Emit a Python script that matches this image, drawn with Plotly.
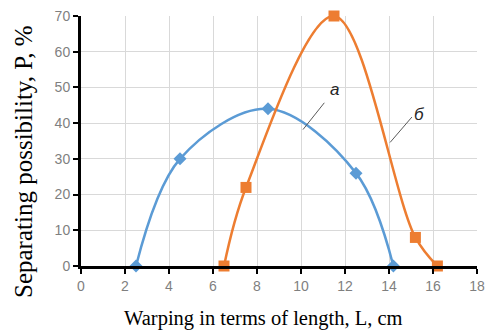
import plotly.graph_objects as go

# curve "a" (blue diamonds)
a_x = [2.5, 4.5, 8.5, 12.5, 14.2]
a_y = [0, 30, 44, 26, 0]

# curve "б" (orange squares)
b_x = [6.5, 7.5, 11.5, 15.2, 16.2]
b_y = [0, 22, 70, 8, 0]

x_ticks = [0, 2, 4, 6, 8, 10, 12, 14, 16, 18]
y_ticks = [0, 10, 20, 30, 40, 50, 60, 70]

BLUE = '#5B9BD5'
ORANGE = '#ED7D31'

fig = go.Figure()

fig.add_trace(go.Scatter(
    x=a_x, y=a_y, mode='lines+markers',
    line=dict(color=BLUE, width=2.5, shape='spline', smoothing=1),
    marker=dict(symbol='diamond', size=10, color=BLUE),
    showlegend=False, cliponaxis=False,
))
fig.add_trace(go.Scatter(
    x=b_x, y=b_y, mode='lines+markers',
    line=dict(color=ORANGE, width=2.5, shape='spline', smoothing=1),
    marker=dict(symbol='square', size=11, color=ORANGE),
    showlegend=False, cliponaxis=False,
))

# leader lines for the curve labels
fig.add_shape(type='line', x0=10.09, y0=38.2, x1=11.06, y1=45.7,
              line=dict(color='#595959', width=1))
fig.add_shape(type='line', x0=14.05, y0=34.6, x1=15.04, y1=41.7,
              line=dict(color='#595959', width=1))
fig.add_annotation(x=11.5, y=49.5, text='<i>a</i>', showarrow=False,
                   font=dict(family='Liberation Sans', size=17, color='#262626'))
fig.add_annotation(x=15.4, y=42.5, text='<i>б</i>', showarrow=False,
                   font=dict(family='Liberation Sans', size=17, color='#262626'))

# axis titles (placed as annotations, they sit off-centre in the original)
fig.add_annotation(xref='paper', yref='paper', x=0.462, y=-0.208,
                   text='Warping in terms of length, L, cm', showarrow=False,
                   xanchor='center', yanchor='middle',
                   font=dict(family='Liberation Serif', size=20.5, color='black'))
fig.add_annotation(xref='paper', yref='paper', x=-0.1465, y=0.42,
                   text='Separating possibility, P, %', showarrow=False, textangle=-90,
                   xanchor='center', yanchor='middle',
                   font=dict(family='Liberation Serif', size=25, color='black'))

tick_font = dict(family='Liberation Sans', size=14, color='#7f7f7f')

fig.update_layout(
    width=494, height=325,
    margin=dict(l=73, r=25, t=8, b=67),
    plot_bgcolor='white', paper_bgcolor='white',
    xaxis=dict(
        range=[0, 18], tickvals=x_ticks, tickfont=tick_font, automargin=False,
        ticklabeloverflow='allow',
        showgrid=True, gridcolor='#d9d9d9', gridwidth=1,
        showline=True, linecolor='black', linewidth=3,
        ticks='outside', ticklen=5, tickwidth=2, tickcolor='black',
        zeroline=False,
    ),
    yaxis=dict(
        range=[0, 70], tickvals=y_ticks, tickfont=tick_font, automargin=False,
        ticklabeloverflow='allow',
        showgrid=True, gridcolor='#d9d9d9', gridwidth=1,
        showline=True, linecolor='black', linewidth=3,
        ticks='outside', ticklen=5, tickwidth=2, tickcolor='black',
        zeroline=False,
    ),
)

fig.write_html("out.html")
